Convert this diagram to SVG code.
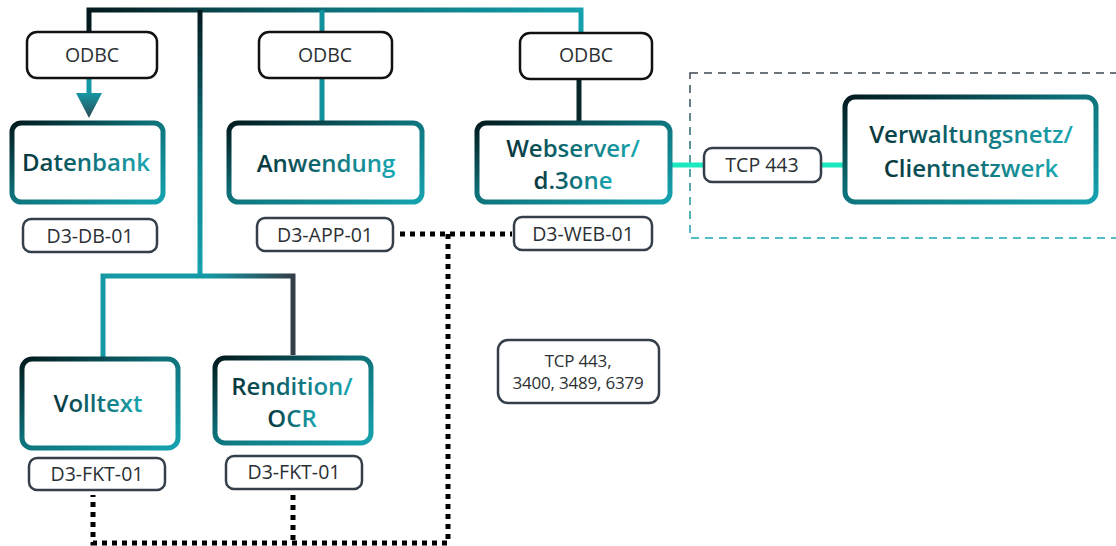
<svg xmlns="http://www.w3.org/2000/svg" width="1116" height="546" viewBox="0 0 1116 546">
<defs>
  <linearGradient id="boxStroke" x1="0" y1="0" x2="1" y2="1">
    <stop offset="0" stop-color="#021a1e"/>
    <stop offset="0.45" stop-color="#0e7078"/>
    <stop offset="1" stop-color="#15a3af"/>
  </linearGradient>
  <linearGradient id="titleFill" x1="0" y1="0" x2="1" y2="0">
    <stop offset="0" stop-color="#07353b"/>
    <stop offset="0.5" stop-color="#0f6f77"/>
    <stop offset="1" stop-color="#1aa7b2"/>
  </linearGradient>
  <linearGradient id="busGrad" gradientUnits="userSpaceOnUse" x1="89" y1="0" x2="581" y2="0">
    <stop offset="0" stop-color="#04191d"/>
    <stop offset="0.5" stop-color="#0d6f77"/>
    <stop offset="1" stop-color="#14a0ac"/>
  </linearGradient>
  <linearGradient id="vertGrad" gradientUnits="userSpaceOnUse" x1="0" y1="10" x2="0" y2="276">
    <stop offset="0" stop-color="#04191d"/>
    <stop offset="0.6" stop-color="#0f8892"/>
    <stop offset="1" stop-color="#15a2ae"/>
  </linearGradient>
  <linearGradient id="forkGrad" gradientUnits="userSpaceOnUse" x1="103" y1="0" x2="293" y2="0">
    <stop offset="0" stop-color="#1499a5"/>
    <stop offset="0.55" stop-color="#1499a5"/>
    <stop offset="1" stop-color="#333e48"/>
  </linearGradient>
  <linearGradient id="arrowGrad" gradientUnits="userSpaceOnUse" x1="0" y1="93" x2="0" y2="118">
    <stop offset="0" stop-color="#1598a4"/>
    <stop offset="1" stop-color="#2c4a55"/>
  </linearGradient>
  <linearGradient id="dashGrad" gradientUnits="userSpaceOnUse" x1="0" y1="73" x2="0" y2="238">
    <stop offset="0" stop-color="#3b4651"/>
    <stop offset="1" stop-color="#17a6b3"/>
  </linearGradient>
  <style>
    .main { fill: #ffffff; stroke: url(#boxStroke); stroke-width: 5; }
    .title { font-family: "Open Sans", "Liberation Sans", sans-serif; font-weight: 600; font-size: 24px; fill: url(#titleFill); text-anchor: middle; }
    .odbc { fill: #ffffff; stroke: #111111; stroke-width: 2.5; }
    .idbox { fill: #ffffff; stroke: #343f4a; stroke-width: 2.5; }
    .lbl { font-family: "Open Sans", "Liberation Sans", sans-serif; font-size: 19.5px; fill: #2b2f33; text-anchor: middle; }
    .small { font-family: "Open Sans", "Liberation Sans", sans-serif; font-size: 17px; fill: #2b2f33; text-anchor: middle; letter-spacing: -0.2px; }
    .dot { fill: none; stroke: #000000; stroke-width: 5; stroke-dasharray: 5 5; }
    .green { fill: none; stroke: #1de9c0; stroke-width: 5; }
  </style>
</defs>

<!-- dashed network zone -->
<rect x="690" y="73" width="440" height="165" fill="none" stroke="url(#dashGrad)" stroke-width="1.5" stroke-dasharray="8 6"/>

<g id="connectors">
  <path d="M89,32 V10 H581 V33" fill="none" stroke="url(#busGrad)" stroke-width="5"/>
  <path d="M200,10 V276" fill="none" stroke="url(#vertGrad)" stroke-width="5"/>
  <path d="M103,357 V276 H293 V355" fill="none" stroke="url(#forkGrad)" stroke-width="5"/>
  <path d="M89,78 V96" fill="none" stroke="#1598a4" stroke-width="5"/>
  <polygon points="76,93 102,93 89,118" fill="url(#arrowGrad)"/>
  <path d="M322,10 V32 M322,78 V121" fill="none" stroke="#12909b" stroke-width="5"/>
  <path d="M579,79 V121" fill="none" stroke="#07262a" stroke-width="5"/>
  <path class="green" d="M672,165 H704 M821,165 H845"/>
  <path class="dot" d="M400,234 H512"/>
  <path class="dot" d="M448,234 V543 H93 V495"/>
  <path class="dot" d="M293,495 V543"/>
</g>

<g id="odbc1"><rect class="odbc" x="27" y="32" width="130" height="46" rx="10"/><text class="lbl" x="92" y="62">ODBC</text></g>
<g id="odbc2"><rect class="odbc" x="259" y="32" width="133" height="46" rx="10"/><text class="lbl" x="325" y="62">ODBC</text></g>
<g id="odbc3"><rect class="odbc" x="520" y="33" width="132" height="46" rx="10"/><text class="lbl" x="586" y="62">ODBC</text></g>

<g id="datenbank"><rect class="main" x="12" y="123" width="151" height="79" rx="9"/><text class="title" x="86" y="171">Datenbank</text></g>
<g id="anwendung"><rect class="main" x="229" y="123" width="193" height="79" rx="9"/><text class="title" x="326" y="172">Anwendung</text></g>
<g id="webserver"><rect class="main" x="477" y="123" width="193" height="79" rx="9"/><text class="title" x="573" y="157">Webserver/</text><text class="title" x="573" y="189">d.3one</text></g>
<g id="verwaltungsnetz"><rect class="main" x="845" y="97" width="251" height="105" rx="10"/><text class="title" x="971" y="143">Verwaltungsnetz/</text><text class="title" x="971" y="177">Clientnetzwerk</text></g>
<g id="volltext"><rect class="main" x="22" y="359" width="156" height="89" rx="10"/><text class="title" x="98" y="412">Volltext</text></g>
<g id="rendition"><rect class="main" x="215" y="358" width="156" height="85" rx="10"/><text class="title" x="292" y="395">Rendition/</text><text class="title" x="292" y="427">OCR</text></g>

<g id="id-db"><rect class="idbox" x="23" y="219" width="134" height="33" rx="8"/><text class="lbl" x="90" y="243">D3-DB-01</text></g>
<g id="id-app"><rect class="idbox" x="257" y="218" width="136" height="33" rx="8"/><text class="lbl" x="325" y="242">D3-APP-01</text></g>
<g id="id-web"><rect class="idbox" x="514" y="217" width="138" height="33" rx="8"/><text class="lbl" x="583" y="241">D3-WEB-01</text></g>
<g id="id-fkt1"><rect class="idbox" x="29" y="458" width="136" height="32" rx="8"/><text class="lbl" x="97" y="481">D3-FKT-01</text></g>
<g id="id-fkt2"><rect class="idbox" x="226" y="456" width="136" height="33" rx="8"/><text class="lbl" x="294" y="479">D3-FKT-01</text></g>
<g id="tcp443"><rect class="idbox" x="704" y="148" width="117" height="34" rx="8"/><text class="lbl" x="762" y="172">TCP 443</text></g>
<g id="tcp-ports"><rect class="idbox" x="498" y="340" width="161" height="63" rx="10"/><text class="small" x="578" y="367">TCP 443,</text><text class="small" x="578" y="389">3400, 3489, 6379</text></g>
</svg>
